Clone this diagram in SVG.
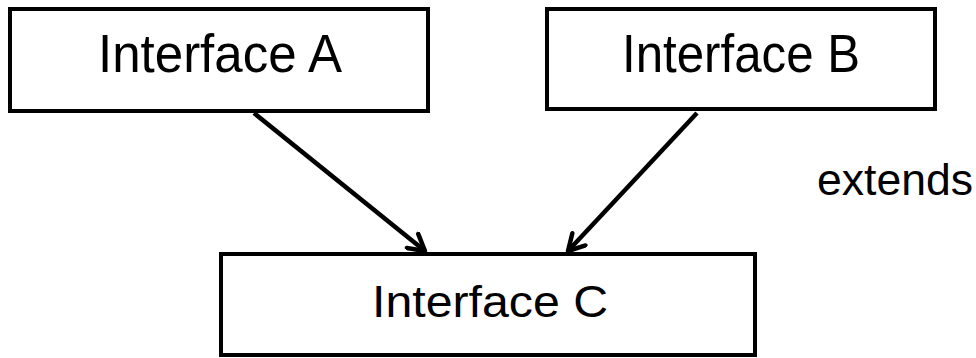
<svg xmlns="http://www.w3.org/2000/svg" width="976" height="358" viewBox="0 0 976 358">
  <style>
    .box { fill: #fff; stroke: #000; stroke-width: 4; }
    .lbl { font-family: "Liberation Sans", Arial, sans-serif; fill: #000; }
    .edge { fill: none; stroke: #000; stroke-width: 4.5; }
  </style>
  <defs>
    <!-- open V arrowhead, sized in user units -->
    <marker id="open" viewBox="0 0 22 22" refX="19" refY="11" markerWidth="22" markerHeight="22" markerUnits="userSpaceOnUse" orient="auto">
      <path d="M3,2 L19,11 L3,20" fill="none" stroke="#000" stroke-width="4.5" stroke-linecap="round" stroke-linejoin="round"/>
    </marker>
  </defs>
  <rect width="976" height="358" fill="#fff"/>
  <g id="connectors">
    <line class="edge" x1="254" y1="113" x2="425" y2="251" marker-end="url(#open)"/>
    <line class="edge" x1="697" y1="113" x2="568" y2="251" marker-end="url(#open)"/>
  </g>
  <g id="interface-a">
    <rect class="box" x="10" y="9" width="418" height="102"/>
    <text class="lbl" x="98" y="72" font-size="54" textLength="244" lengthAdjust="spacingAndGlyphs">Interface A</text>
  </g>
  <g id="interface-b">
    <rect class="box" x="547" y="9" width="388" height="100"/>
    <text class="lbl" x="622" y="72" font-size="54" textLength="238" lengthAdjust="spacingAndGlyphs">Interface B</text>
  </g>
  <g id="interface-c">
    <rect class="box" x="221" y="254" width="534" height="101"/>
    <text class="lbl" x="372" y="317" font-size="45" textLength="236" lengthAdjust="spacingAndGlyphs">Interface C</text>
  </g>
  <text class="lbl" x="817" y="195" font-size="44" textLength="156" lengthAdjust="spacingAndGlyphs">extends</text>
</svg>
